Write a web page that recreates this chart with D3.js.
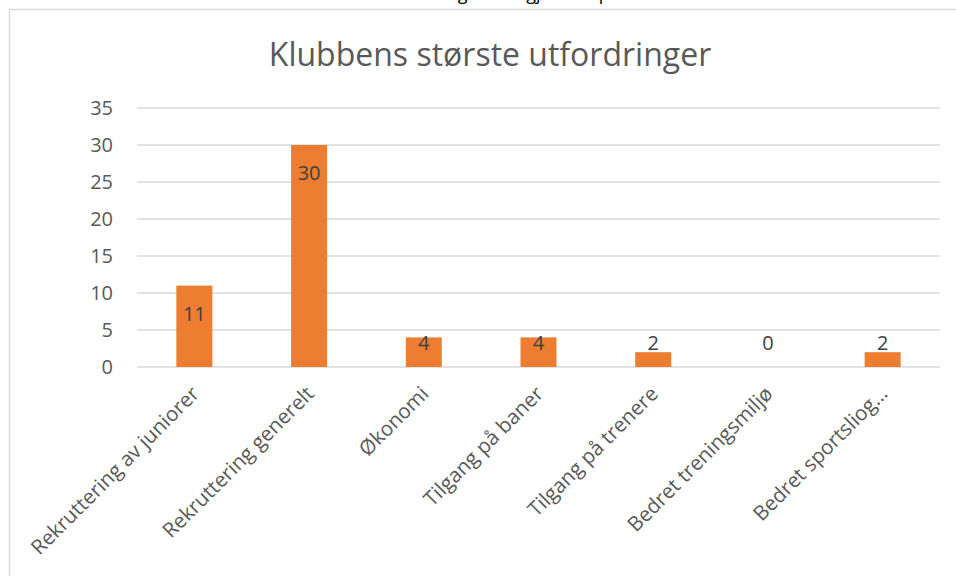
<!DOCTYPE html>
<html>
<head>
<meta charset="utf-8">
<script src="https://cdn.jsdelivr.net/npm/d3@7"></script>
<style>
  html, body { margin: 0; padding: 0; background: #fff; }
  svg { display: block; }
</style>
</head>
<body>
<svg id="chart"></svg>
<script>
// Klubbens største utfordringer (D3 stolpediagram)
const categories = [
  'Rekruttering av juniorer',
  'Rekruttering generelt',
  'Økonomi',
  'Tilgang på baner',
  'Tilgang på trenere',
  'Bedret treningsmiljø',
  'Bedret sportsliog…'
];
const values = [11, 30, 4, 4, 2, 0, 2];
const yTicks = [0, 5, 10, 15, 20, 25, 30, 35];

const W = 956, H = 576;
const font = '"Open Sans", "Noto Sans", sans-serif';
const textGrey = '#595959';

const svg = d3.select('#chart').attr('width', W).attr('height', H);

svg.append('rect').attr('width', W).attr('height', H).attr('fill', '#fff');

// avskåret tekst over diagrammet (bare underlengder synlige)
svg.append('text')
  .attr('x', 355).attr('y', -0.5)
  .attr('font-family', font).attr('font-size', 18)
  .attr('fill', '#000')
  .text('Sammendrag: totalt gjort for påmeldte');

// diagramramme
svg.append('rect')
  .attr('x', 9.5).attr('y', 9.5)
  .attr('width', W + 20).attr('height', H + 20)
  .attr('fill', 'none').attr('stroke', '#d9d9d9').attr('stroke-width', 1.5);

// tittel
svg.append('text')
  .attr('x', 490).attr('y', 66)
  .attr('text-anchor', 'middle')
  .attr('font-family', font).attr('font-size', 32)
  .attr('fill', textGrey)
  .text('Klubbens største utfordringer');

const x = d3.scaleBand().domain(categories).range([137, 940]).paddingInner(0.686).paddingOuter(0.343);
const y = d3.scaleLinear().domain([0, 35]).range([367, 108]);

// rutenett
svg.append('g')
  .selectAll('line')
  .data(yTicks)
  .join('line')
  .attr('x1', 137).attr('x2', 940)
  .attr('y1', d => y(d)).attr('y2', d => y(d))
  .attr('stroke', '#d9d9d9').attr('stroke-width', 1.3);

// y-akse
const yAxis = svg.append('g')
  .attr('transform', 'translate(113,0)')
  .call(d3.axisLeft(y).tickValues(yTicks).tickSize(0).tickPadding(0));
yAxis.select('.domain').remove();
yAxis.selectAll('text')
  .attr('font-family', font).attr('font-size', 20)
  .attr('fill', textGrey);

// stolper
svg.append('g')
  .selectAll('rect')
  .data(values)
  .join('rect')
  .attr('x', (d, i) => x(categories[i]))
  .attr('y', d => y(d))
  .attr('width', x.bandwidth())
  .attr('height', d => y(0) - y(d))
  .attr('fill', '#ED7D31');

// dataetiketter
svg.append('g')
  .selectAll('text')
  .data(values)
  .join('text')
  .attr('x', (d, i) => x(categories[i]) + x.bandwidth() / 2)
  .attr('y', d => Math.min(y(d) + 28, y(0) - 24))
  .attr('dy', '0.35em')
  .attr('text-anchor', 'middle')
  .attr('font-family', font).attr('font-size', 20)
  .attr('fill', '#404040')
  .text(d => d);

// x-akse etiketter
svg.append('g')
  .selectAll('text')
  .data(categories)
  .join('text')
  .attr('transform', d => `translate(${x(d) + x.bandwidth() / 2 + 1},${y(0) + 23}) rotate(-45)`)
  .attr('text-anchor', 'end')
  .attr('dy', '0.35em')
  .attr('font-family', font).attr('font-size', 20.5)
  .attr('fill', textGrey)
  .text(d => d);
</script>
</body>
</html>
